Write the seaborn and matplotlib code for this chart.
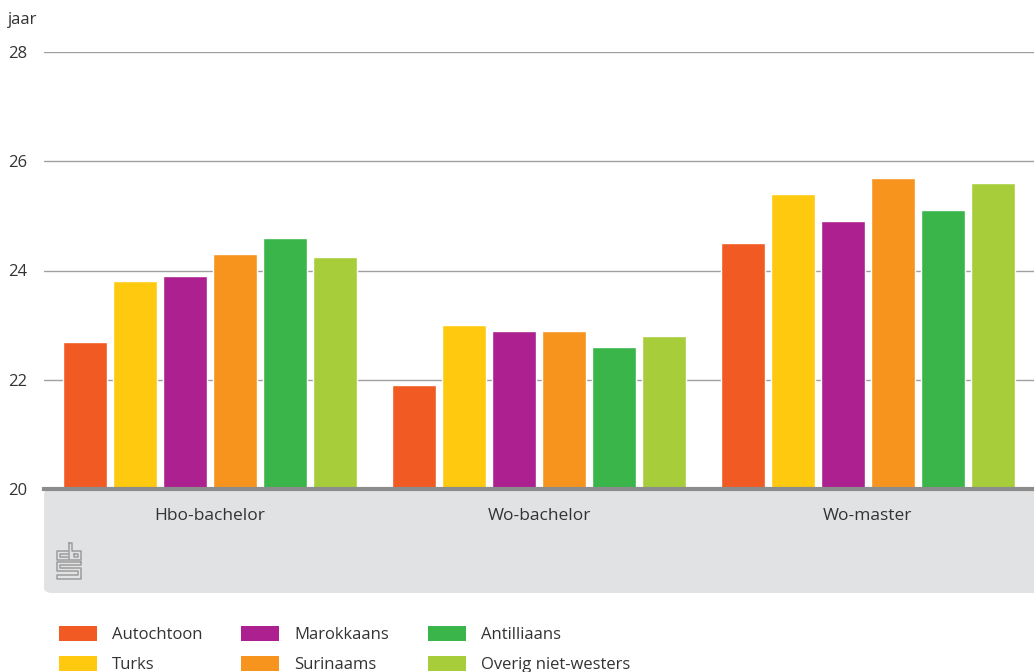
import matplotlib
matplotlib.use("Agg")
import matplotlib.pyplot as plt
import matplotlib.patches as mpatches
from matplotlib.lines import Line2D
import seaborn as sns
import pandas as pd

opleidingen = ["Hbo-bachelor", "Wo-bachelor", "Wo-master"]
herkomst = ["Autochtoon", "Turks", "Marokkaans", "Surinaams", "Antilliaans", "Overig niet-westers"]
autochtoon = [22.7, 21.9, 24.5]
turks = [23.8, 23.0, 25.4]
marokkaans = [23.9, 22.9, 24.9]
surinaams = [24.3, 22.9, 25.7]
antilliaans = [24.6, 22.6, 25.1]
overig = [24.25, 22.8, 25.6]
y_ticks = [20, 22, 24, 26, 28]

colors = ["#f15a22", "#fec90f", "#ac208f", "#f7941d", "#3ab54a", "#a7cd3a"]

series = [autochtoon, turks, marokkaans, surinaams, antilliaans, overig]
rows = []
for name, vals in zip(herkomst, series):
    for opl, v in zip(opleidingen, vals):
        rows.append({"opleiding": opl, "herkomst": name, "leeftijd": v})
df = pd.DataFrame(rows)

sns.set_style("white")
plt.rcParams["font.family"] = ["Open Sans", "DejaVu Sans"]
text_color = "#333333"

W, H = 1034, 672
fig = plt.figure(figsize=(W / 100, H / 100), dpi=100)
ax = fig.add_axes([44 / W, 1 - 489 / H, 1 - 44 / W, (489 - 52) / H])

# grey band below the axis
band = mpatches.FancyBboxPatch((44 / W, 1 - 593 / H), 1 - 44 / W + 0.02, (593 - 489) / H,
                               boxstyle="round,pad=0,rounding_size=0.008",
                               transform=fig.transFigure, facecolor="#e1e2e4",
                               edgecolor="none", zorder=-1)
fig.patches.append(band)

# rough cbs logo outline (pixel coords)
logo = [
    [(68, 551), (57, 551), (57, 560), (68, 560)],
    [(68, 554), (60, 554), (60, 557), (68, 557)],
    [(69, 543), (69, 560), (81, 560), (81, 551), (72, 551), (72, 543), (69, 543)],
    [(74, 554), (78, 554), (78, 557), (74, 557), (74, 554)],
    [(81, 562), (57, 562), (57, 571), (78, 571), (78, 575), (57, 575), (57, 579),
     (81, 579), (81, 568), (60, 568), (60, 565), (81, 565), (81, 562)],
]
for pts in logo:
    xs = [p[0] / W for p in pts]
    ys = [1 - p[1] / H for p in pts]
    fig.lines.append(Line2D(xs, ys, transform=fig.transFigure, color="#9c9c9c", linewidth=1.1))

sns.barplot(data=df, x="opleiding", y="leeftijd", hue="herkomst", order=opleidingen,
            hue_order=herkomst, palette=colors, width=0.91, gap=0.12,
            saturation=1, legend=False, ax=ax, zorder=3)

ax.set_xlim(-0.505, 2.505)
ax.set_ylim(20, 28)
ax.set_yticks(y_ticks)
ax.set_yticklabels([str(t) for t in y_ticks], ha="left", fontsize=12, color=text_color)
ax.tick_params(axis="y", length=0, pad=26)
ax.tick_params(axis="x", length=0, pad=14, labelsize=12.5, labelcolor=text_color)
ax.set_xlabel("")
ax.set_ylabel("")
ax.yaxis.grid(True, color="#a0a0a0", linewidth=1)
ax.set_axisbelow(True)
for s in ["top", "right", "left"]:
    ax.spines[s].set_visible(False)
ax.spines["bottom"].set_color("#8c8c8c")
ax.spines["bottom"].set_linewidth(3)
ax.spines["bottom"].set_zorder(5)
ax.patch.set_alpha(0)

fig.text(8 / W, 1 - 20 / H, "jaar", fontsize=12, color=text_color, va="center", ha="left")

handles = [mpatches.Patch(facecolor=c, edgecolor="none", label=l) for c, l in zip(colors, herkomst)]
fig.legend(handles=handles, ncol=3, loc="upper left", bbox_to_anchor=(59 / W, 1 - 626 / H),
           frameon=False, fontsize=12, handlelength=2.3, handleheight=1.0,
           handletextpad=0.9, columnspacing=2.3, labelspacing=0.75, borderpad=0,
           borderaxespad=0, labelcolor=text_color)

fig.savefig("out.png", dpi=100)
